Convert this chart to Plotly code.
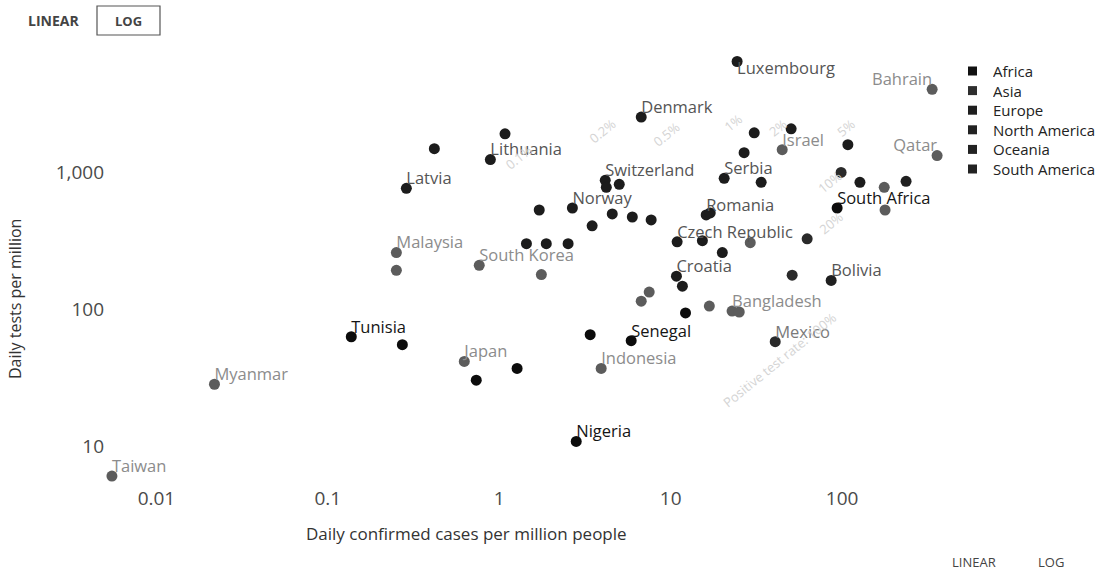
import numpy as np
import plotly.graph_objects as go

# Daily confirmed cases per million vs daily tests per million, by continent
africa_names = ["Tunisia", "", "Nigeria", "Senegal", "South Africa", "", "", "", ""]
africa_cases = [0.137, 0.272, 2.81, 5.88, 93.5, 3.39, 0.734, 1.27, 12.2]
africa_tests = [63.3, 55.4, 10.9, 59.3, 550, 65.5, 30.5, 37.2, 94.4]

asia_names = ["Taiwan", "Myanmar", "Malaysia", "", "South Korea", "Japan", "Indonesia",
              "Bangladesh", "", "", "", "", "Israel", "Bahrain", "Qatar", "", "", "", ""]
asia_cases = [0.0055, 0.0218, 0.251, 0.251, 0.764, 0.625, 3.93,
              22.8, 25.1, 16.8, 7.49, 6.73, 44.7, 335, 358, 29.1, 178, 176, 1.76]
asia_tests = [6.1, 28.5, 260, 193, 210, 41.8, 37.2,
              97.5, 95.9, 106, 134, 115, 1466, 4036, 1327, 307, 532, 779, 180]

europe_names = ["Latvia", "", "Lithuania", "", "", "", "", "", "Norway", "", "", "", "",
                "Switzerland", "", "", "Denmark", "Czech Republic", "", "", "Romania", "",
                "Croatia", "", "Serbia", "", "", "", "", "Luxembourg", "", ""]
europe_cases = [0.287, 0.418, 0.887, 1.08, 1.44, 1.88, 2.52, 1.71, 2.67, 3.48, 4.56, 5.97, 7.69,
                4.15, 5.01, 4.21, 6.73, 10.9, 15.3, 20.0, 16.1, 17.0,
                10.8, 11.7, 20.5, 33.7, 26.8, 30.7, 50.4, 24.4, 108, 127]
europe_tests = [766, 1489, 1241, 1914, 302, 302, 302, 532, 550, 408, 498, 473, 450,
                876, 819, 779, 2535, 312, 318, 260, 490, 506,
                175, 148, 905, 847, 1394, 1944, 2080, 6442, 1592, 847]

namerica_names = ["Mexico", "", "", ""]
namerica_cases = [40.7, 62.5, 98.6, 51.1]
namerica_tests = [58.3, 328, 1000, 178]

oceania_names = []
oceania_cases = []
oceania_tests = []

samerica_names = ["Bolivia", ""]
samerica_cases = [86.3, 236]
samerica_tests = [163, 861]

continents = ["Africa", "Asia", "Europe", "North America", "Oceania", "South America"]

# Reference lines of constant share of positive tests (tests = cases / rate)
rate_labels = ["0.1%", "0.2%", "0.5%", "1%", "2%", "5%", "10%", "20%", "Positive test rate: 100%"]
rate_values = [0.001, 0.002, 0.005, 0.01, 0.02, 0.05, 0.1, 0.2, 1.0]
rate_label_cases = [1.3, 4.0, 9.5, 23, 42, 105, 85, 86, 43]

x_ticks = [0.01, 0.1, 1, 10, 100]
x_ticktext = ["0.01", "0.1", "1", "10", "100"]
y_ticks = [10, 100, 1000]
y_ticktext = ["10", "100", "1,000"]

series = {
    "Africa": (africa_names, africa_cases, africa_tests),
    "Asia": (asia_names, asia_cases, asia_tests),
    "Europe": (europe_names, europe_cases, europe_tests),
    "North America": (namerica_names, namerica_cases, namerica_tests),
    "Oceania": (oceania_names, oceania_cases, oceania_tests),
    "South America": (samerica_names, samerica_cases, samerica_tests),
}

dot_color = {"Africa": "#0c0c0c", "Asia": "#5c5c5c", "Europe": "#1c1c1c",
             "North America": "#2a2a2a", "Oceania": "#333333", "South America": "#202020"}
label_color = {"Africa": "#151515", "Asia": "#8c8c8c", "Europe": "#555555",
               "North America": "#7a7a7a", "Oceania": "#555555", "South America": "#555555"}
legend_color = {"Africa": "#111111", "Asia": "#2e2e2e", "Europe": "#1e1e1e",
                "North America": "#222222", "Oceania": "#222222", "South America": "#222222"}
label_side = {"Luxembourg": "bottom right", "Bahrain": "top left", "Qatar": "top left"}

FONT = "'Open Sans', Lato, sans-serif"
W, H = 1120, 570
L, R, T, B = 105, 175, 60, 85
PW, PH = W - L - R, H - T - B


def px_x(px):
    return (px - L) / PW


def px_y(py):
    return (H - B - py) / PH


fig = go.Figure()

for cont in continents:
    names, cases, tests = series[cont]
    fig.add_trace(go.Scatter(
        x=cases, y=tests, mode="markers",
        marker=dict(size=11, color=dot_color[cont], line=dict(width=0)),
        name=cont, showlegend=False, cliponaxis=False,
    ))

# country labels, drawn as a text layer next to each dot
for cont in continents:
    names, cases, tests = series[cont]
    fig.add_trace(go.Scatter(
        x=cases, y=tests, mode="text", text=names,
        textposition=[label_side.get(n, "top right") for n in names],
        textfont=dict(family=FONT, size=16.5, color=label_color[cont]),
        showlegend=False, cliponaxis=False, hoverinfo="skip",
    ))

annotations = []
for lab, rate, cx in zip(rate_labels, rate_values, rate_label_cases):
    annotations.append(dict(
        x=np.log10(cx), y=np.log10(cx / rate), xref="x", yref="y",
        xanchor="center", yanchor="middle",
        text=lab, showarrow=False, textangle=-39,
        font=dict(family=FONT, size=13, color="#d4d4d4"),
    ))


def note(px, py, text, size=13, color="#444444", angle=0, anchor="center", **kw):
    return dict(x=px_x(px), y=px_y(py), xref="paper", yref="paper", text=text,
                showarrow=False, xanchor=anchor, yanchor="middle", textangle=angle,
                font=dict(family=FONT, size=size, color=color), **kw)


annotations += [
    note(466, 533, "Daily confirmed cases per million people", size=17, color="#333333"),
    note(15, 299, "Daily tests per million", size=16, color="#333333", angle=-90),
    note(53, 21, "<b>LINEAR</b>", size=14),
    note(128, 21, "<b>LOG</b>", size=13),
    note(974, 562, "LINEAR", size=13),
    note(1051, 562, "LOG", size=13),
]

shapes = [dict(type="rect", xref="paper", yref="paper",
               x0=px_x(97), x1=px_x(160), y0=px_y(35), y1=px_y(6),
               line=dict(color="#555555", width=1.2), fillcolor="rgba(0,0,0,0)")]

# legend: square swatch plus continent name
legend_top, legend_step = 71, 19.6
for i, cont in enumerate(continents):
    cy = legend_top + i * legend_step
    shapes.append(dict(type="rect", xref="paper", yref="paper",
                       x0=px_x(968), x1=px_x(977), y0=px_y(cy + 4.5), y1=px_y(cy - 4.5),
                       line=dict(width=0), fillcolor=legend_color[cont]))
    annotations.append(note(991, cy, cont, size=15, color="#222222", anchor="left",
                            height=18, valign="middle"))

fig.update_layout(
    width=W, height=H,
    margin=dict(l=L, r=R, t=T, b=B),
    paper_bgcolor="white", plot_bgcolor="white",
    font=dict(family=FONT),
    xaxis=dict(type="log", range=[-2.30, 2.60], tickvals=x_ticks, ticktext=x_ticktext,
               showgrid=False, zeroline=False, showline=False, ticks="",
               tickfont=dict(family=FONT, size=19, color="#4a4a4a")),
    yaxis=dict(type="log", range=[0.72, 3.82], tickvals=y_ticks, ticktext=y_ticktext,
               showgrid=False, zeroline=False, showline=False, ticks="",
               tickfont=dict(family=FONT, size=19, color="#4a4a4a")),
    annotations=annotations,
    shapes=shapes,
    showlegend=False,
)

fig.write_html("out.html")
